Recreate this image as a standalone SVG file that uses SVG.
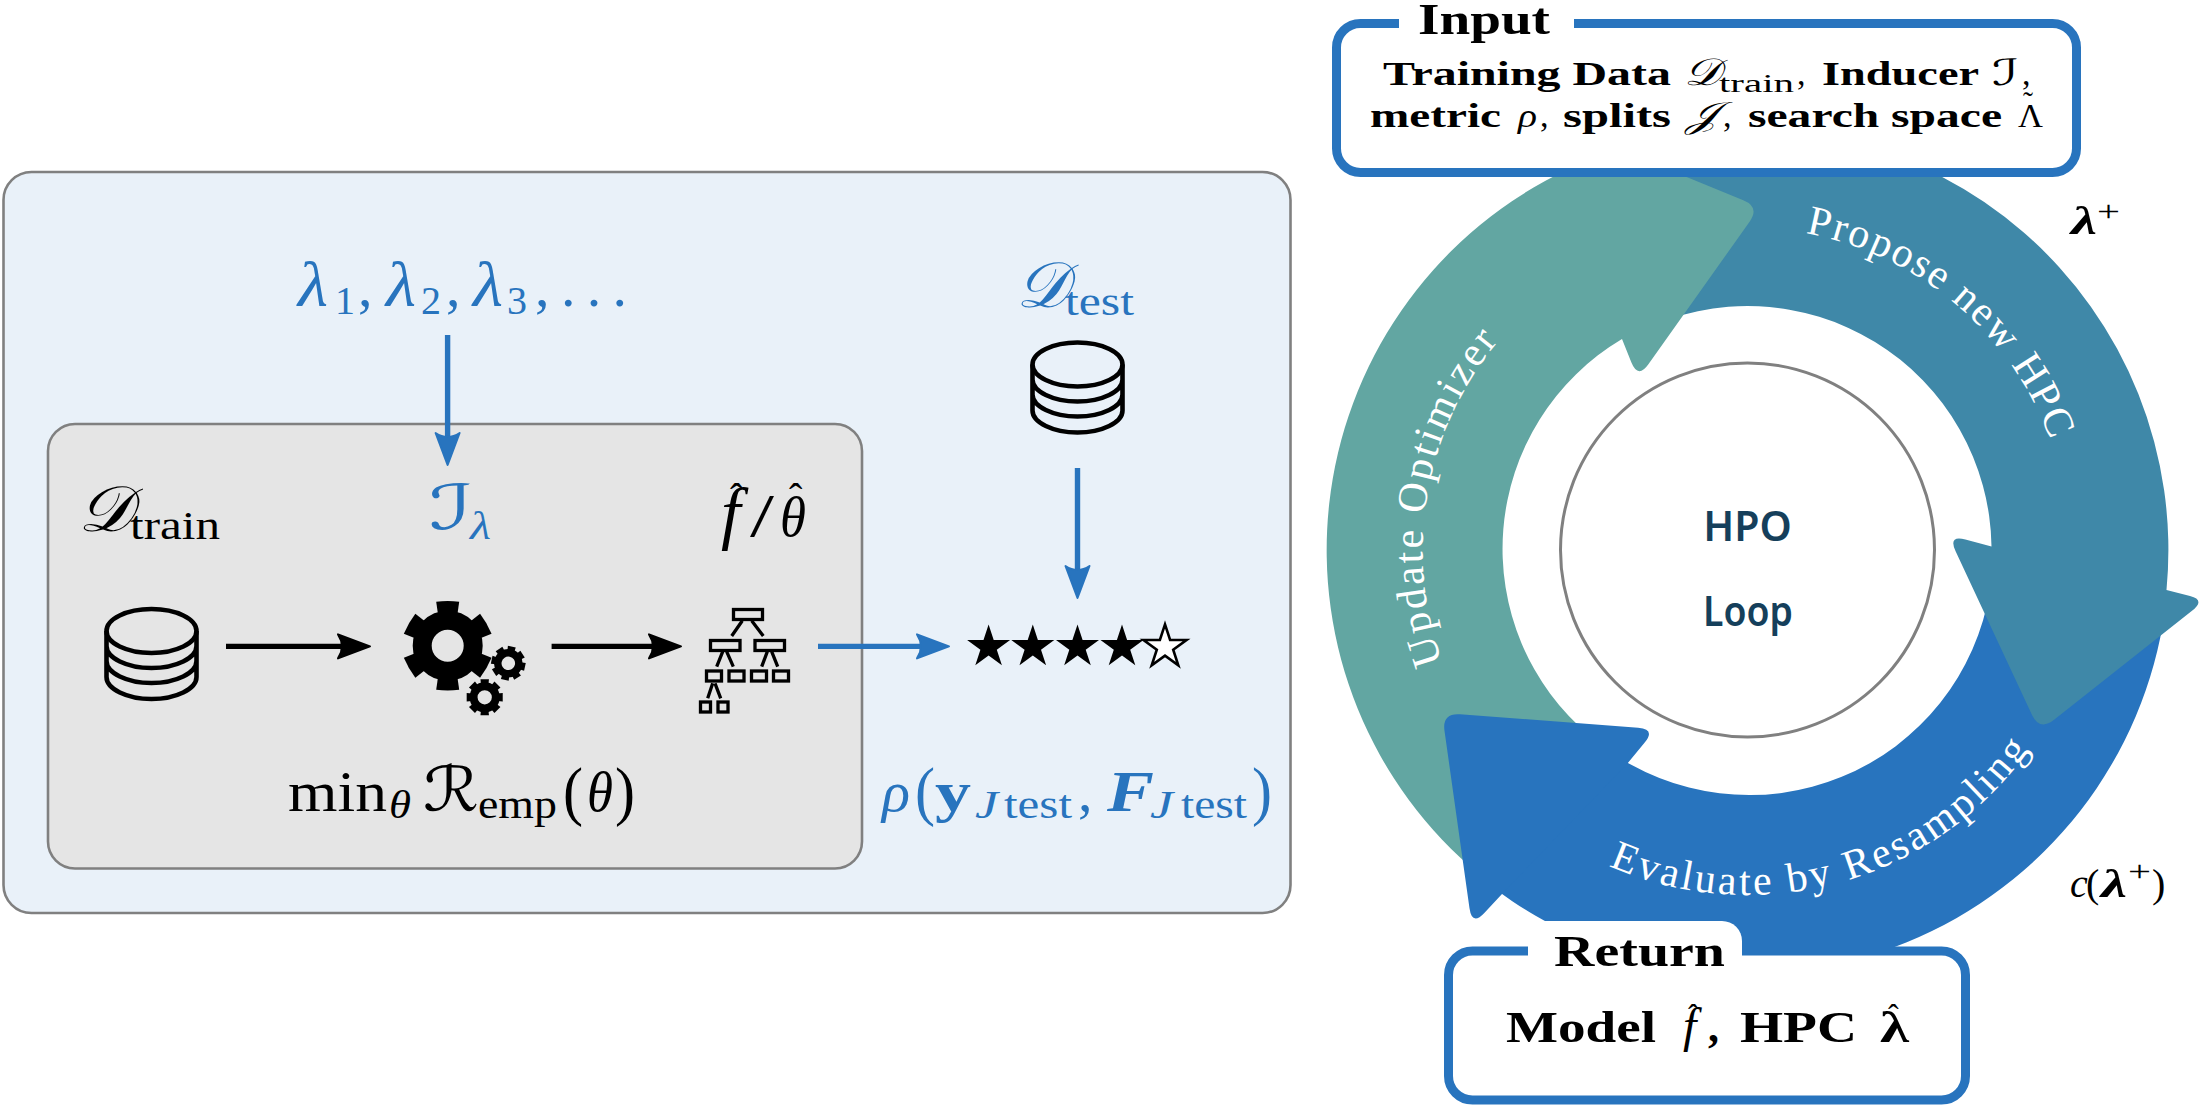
<svg xmlns="http://www.w3.org/2000/svg" xmlns:xlink="http://www.w3.org/1999/xlink" width="2202" height="1106" viewBox="0 0 2202 1106">
<style>
text{font-family:"Liberation Serif","DejaVu Serif",serif;fill:#000}
.i{font-style:italic}
.bd{font-weight:700}
.blue,.blue text{fill:#2874BE}
.script{font-family:"DejaVu Sans","Noto Sans",sans-serif;font-style:italic}
.arc{fill:#fff;font-size:42px}
.panel{stroke:#808080;stroke-width:2.6}
.frame{fill:none;stroke:#2874BE;stroke-width:9}
.db{fill:none;stroke:#000;stroke-width:4.6}
.tree rect,.tree path{fill:none;stroke:#000;stroke-width:3.3}
.conn{fill:none;stroke-width:5.4}
.hpo{font-family:"Noto Sans",sans-serif;font-weight:600;font-size:41px;fill:#153F5B;text-anchor:middle}
</style>
<defs>
<marker id="ah-k" markerUnits="userSpaceOnUse" markerWidth="60" markerHeight="40" refX="0" refY="20" orient="auto" overflow="visible"><path d="M-10 8Q-2 20-10 32L22 20Z" fill="#000" stroke="#000" stroke-width="2" stroke-linejoin="round"/></marker>
<marker id="ah-b" markerUnits="userSpaceOnUse" markerWidth="60" markerHeight="40" refX="0" refY="20" orient="auto" overflow="visible"><path d="M-10 8Q-2 20-10 32L22 20Z" fill="#2874BE" stroke="#2874BE" stroke-width="2" stroke-linejoin="round"/></marker>
<g id="cyl" class="db">
<ellipse cx="151.5" cy="631" rx="45" ry="22"/>
<path d="M106.500 631V677C106.500 689 127 699 151.500 699S196.500 689 196.500 677V631M106.500 646C106.500 658 127 668 151.500 668S196.500 658 196.500 646M106.500 661C106.500 673 127 683 151.500 683S196.500 673 196.500 661"/>
</g>
<path id="tooth-l" d="M-9.500 -30L-11.500 -44Q0 -45.500 11.500 -44L9.500 -30Z"/>
<g id="gear-s">
<circle r="10.500" fill="none" stroke="#000" stroke-width="7.500"/>
<path id="ts" d="M-3.500 -12L-4 -17H4L3.500 -12Z"/>
<use href="#ts" transform="rotate(45)"/><use href="#ts" transform="rotate(90)"/><use href="#ts" transform="rotate(135)"/><use href="#ts" transform="rotate(180)"/><use href="#ts" transform="rotate(225)"/><use href="#ts" transform="rotate(270)"/><use href="#ts" transform="rotate(315)"/>
</g>
<polygon id="star" points="0,-22.600 5.100,-7 21.500,-7 8.200,2.700 13.300,18.300 0,8.600 -13.300,18.300 -8.200,2.700 -21.500,-7 -5.100,-7"/>
<path id="tp-propose" d="M1805.600 233.300A322 322 0 0 1 2050.100 439.900"/>
<path id="tp-update" d="M1442.500 662A325 325 0 0 1 1498.500 341.100"/>
<path id="tp-eval" d="M1608.800 865.900A345 345 0 0 0 2029.100 749.400"/>
</defs>

<g id="left-panel">
<rect class="panel" x="3.500" y="172" width="1287" height="741" rx="28" fill="#E9F1F9"/>
</g>
<g id="inner-panel">
<rect class="panel" x="48" y="424" width="814" height="444.500" rx="27" fill="#E5E5E5"/>
</g>

<g id="connectors">
<path class="conn" stroke="#2874BE" marker-end="url(#ah-b)" d="M447.600 335V443"/>
<path class="conn" stroke="#000" marker-end="url(#ah-k)" d="M226 646.400H348"/>
<path class="conn" stroke="#000" marker-end="url(#ah-k)" d="M551.600 646.400H659"/>
<path class="conn" stroke="#2874BE" marker-end="url(#ah-b)" d="M818 646.400H927"/>
<path class="conn" stroke="#2874BE" marker-end="url(#ah-b)" d="M1077.500 468V576"/>
</g>

<g id="lambda-seq" class="blue">
<text class="i" x="298" y="305.500" font-size="64" textLength="30" lengthAdjust="spacingAndGlyphs">λ</text>
<text x="335" y="314" font-size="40">1</text><text x="358" y="305.500" font-size="58">,</text>
<text class="i" x="386" y="305.500" font-size="64" textLength="30" lengthAdjust="spacingAndGlyphs">λ</text>
<text x="421" y="314" font-size="40">2</text><text x="446" y="305.500" font-size="58">,</text>
<text class="i" x="473" y="305.500" font-size="64" textLength="30" lengthAdjust="spacingAndGlyphs">λ</text>
<text x="507" y="314" font-size="40">3</text><text x="535" y="305.500" font-size="58">,</text>
<text x="561" y="305.500" font-size="58" textLength="66" lengthAdjust="spacing">...</text>
</g>
<g id="d-train">
<text class="script" x="78" y="531" font-size="64" textLength="54" lengthAdjust="spacingAndGlyphs">𝒟</text>
<text x="130" y="538.500" font-size="40" textLength="90" lengthAdjust="spacingAndGlyphs">train</text>
</g>
<g id="inducer" class="blue">
<text class="script" x="429" y="529" font-size="62" textLength="44" lengthAdjust="spacingAndGlyphs">ℐ</text>
<text class="i" x="470" y="538.500" font-size="40" textLength="21" lengthAdjust="spacingAndGlyphs">λ</text>
</g>
<g id="f-theta-hat">
<text class="i" x="721" y="536" font-size="70">f</text>
<text x="730" y="511" font-size="40">ˆ</text>
<text x="750" y="536" font-size="62" textLength="24" lengthAdjust="spacingAndGlyphs">/</text>
<text class="i" x="780" y="536" font-size="58" textLength="26" lengthAdjust="spacingAndGlyphs">θ</text>
<text x="789" y="511" font-size="40">ˆ</text>
</g>
<g id="db-train"><use href="#cyl"/></g>
<g id="gears">
<circle cx="447.700" cy="645.700" r="25.500" fill="none" stroke="#000" stroke-width="19"/>
<g transform="translate(447.700,645.700)">
<use href="#tooth-l"/><use href="#tooth-l" transform="rotate(60)"/><use href="#tooth-l" transform="rotate(120)"/><use href="#tooth-l" transform="rotate(180)"/><use href="#tooth-l" transform="rotate(240)"/><use href="#tooth-l" transform="rotate(300)"/>
</g>
<use href="#gear-s" transform="translate(508.300,663.300) rotate(12)"/>
<use href="#gear-s" transform="translate(484.700,697.300) scale(1.060)"/>
</g>
<g id="tree" class="tree">
<rect x="733.500" y="609.500" width="29" height="10"/>
<rect x="710.500" y="640.500" width="29.500" height="10"/><rect x="755" y="640.500" width="29.500" height="10"/>
<rect x="706.500" y="671" width="15" height="10"/><rect x="729" y="671" width="15" height="10"/><rect x="751.500" y="671" width="15" height="10"/><rect x="773.500" y="671" width="15" height="10"/>
<rect x="700.500" y="702" width="10" height="10"/><rect x="718" y="702" width="10" height="10"/>
<path d="M742.300 620.700L731.700 636M751.700 620.700L763.300 636M722.700 651.700L716.700 666.700M726.700 651.700L733.300 666.700M767.300 651.700L761.700 666.700M771.700 651.700L777.700 666.700M712.700 683.300L707.700 698.300M715 683.300L720.700 698.300"/>
</g>
<g id="min-risk">
<text x="288" y="810.500" font-size="58" textLength="99" lengthAdjust="spacingAndGlyphs">min</text>
<text class="i" x="389" y="818" font-size="40" textLength="22" lengthAdjust="spacingAndGlyphs">θ</text>
<text class="script" x="423" y="810.500" font-size="62" textLength="56" lengthAdjust="spacingAndGlyphs">ℛ</text>
<text x="478" y="818" font-size="40" textLength="79" lengthAdjust="spacingAndGlyphs">emp</text>
<text x="563" y="813" font-size="66" textLength="20" lengthAdjust="spacingAndGlyphs">(</text>
<text class="i" x="587" y="810.500" font-size="58" textLength="26" lengthAdjust="spacingAndGlyphs">θ</text>
<text x="615" y="813" font-size="66" textLength="20" lengthAdjust="spacingAndGlyphs">)</text>
</g>
<g id="d-test" class="blue">
<text class="script" x="1016" y="307" font-size="64" textLength="52" lengthAdjust="spacingAndGlyphs">𝒟</text>
<text x="1065" y="315" font-size="40" textLength="69" lengthAdjust="spacingAndGlyphs">test</text>
</g>
<g id="db-test"><use href="#cyl" transform="translate(926,-266.500)"/></g>
<g id="stars">
<use href="#star" x="988.600" y="647"/><use href="#star" x="1032.800" y="647"/><use href="#star" x="1077.500" y="647"/><use href="#star" x="1122" y="647"/>
<use href="#star" x="1165" y="647" fill="#fff" stroke="#000" stroke-width="2.600"/>
</g>
<g id="rho" class="blue">
<text class="i" x="882" y="810.500" font-size="58" textLength="28" lengthAdjust="spacingAndGlyphs">ρ</text>
<text x="915" y="813" font-size="66" textLength="20" lengthAdjust="spacingAndGlyphs">(</text>
<text class="bd" x="935" y="810.500" font-size="58" textLength="36" lengthAdjust="spacingAndGlyphs">y</text>
<text class="i" x="975" y="818" font-size="40" textLength="23" lengthAdjust="spacingAndGlyphs">J</text>
<text x="1004" y="818" font-size="40" textLength="68" lengthAdjust="spacingAndGlyphs">test</text>
<text x="1078" y="810.500" font-size="58">,</text>
<text class="i bd" x="1107" y="810.500" font-size="58" textLength="47" lengthAdjust="spacingAndGlyphs">F</text>
<text class="i" x="1150" y="818" font-size="40" textLength="23" lengthAdjust="spacingAndGlyphs">J</text>
<text x="1181" y="818" font-size="40" textLength="66" lengthAdjust="spacingAndGlyphs">test</text>
<text x="1252" y="813" font-size="66" textLength="20" lengthAdjust="spacingAndGlyphs">)</text>
</g>

<g id="loop-arrows">
<path id="arrow-eval-band" fill="#2874BE" d="M2165 610A421 421 0 0 1 1490 885L1605 748A244 244 0 0 0 1990 590Z"/>
<path id="arrow-propose" fill="#3F88A8" d="M1650 140.500A421 421 0 0 1 2166.500 590L2190 596Q2206 600 2191.700 611L2053.800 720.100Q2039.500 731 2031.900 714.700L1955.600 551.300Q1948 535 1965.400 539.600L1991.500 546.400A244 244 0 0 0 1640 331Z"/>
<path id="arrow-update" fill="#62A6A2" d="M1480 875A421 421 0 0 1 1556.400 175L1533 114L1743.300 200.200Q1760 207 1749.600 221.700L1648.400 364.300Q1638 379 1631.300 362.300L1622 339A244 244 0 0 0 1590 736Z"/>
<path id="arrow-eval-head" fill="#2874BE" d="M1502 894L1484.300 912.900Q1472 926 1469.500 908.200L1444.500 730.800Q1442 713 1459.900 714.300L1638.100 727.700Q1656 729 1644.500 742.800L1627 764Z"/>
<text class="arc"><textPath href="#tp-propose" textLength="335" lengthAdjust="spacing">Propose new HPC</textPath></text>
<text class="arc"><textPath href="#tp-update" textLength="341" lengthAdjust="spacing">Update Optimizer</textPath></text>
<text class="arc"><textPath href="#tp-eval" textLength="472" lengthAdjust="spacing">Evaluate by Resampling</textPath></text>
</g>

<g id="hpo-center">
<circle cx="1747.500" cy="550" r="187" fill="#fff" stroke="#808080" stroke-width="3"/>
<text class="hpo" x="1747.500" y="541">HPO</text>
<text class="hpo" x="1703" y="626" style="text-anchor:start" textLength="90" lengthAdjust="spacingAndGlyphs">Loop</text>
</g>

<g id="input-box">
<rect x="1336.500" y="23.500" width="740" height="149" rx="24" fill="#fff"/>
<path class="frame" d="M1574 23.500H2052.500A24 24 0 0 1 2076.500 47.500V148.500A24 24 0 0 1 2052.500 172.500H1360.500A24 24 0 0 1 1336.500 148.500V47.500A24 24 0 0 1 1360.500 23.500H1399"/>
<text class="bd" x="1418" y="34" font-size="44" textLength="132" lengthAdjust="spacingAndGlyphs">Input</text>
<text class="bd" x="1383" y="85" font-size="34" textLength="288" lengthAdjust="spacingAndGlyphs">Training Data</text>
<text class="script" x="1684" y="85" font-size="38" textLength="36" lengthAdjust="spacingAndGlyphs">𝒟</text>
<text x="1719" y="92" font-size="26" textLength="75" lengthAdjust="spacingAndGlyphs">train</text>
<text x="1797" y="85" font-size="34">,</text>
<text class="bd" x="1822" y="85" font-size="34" textLength="157" lengthAdjust="spacingAndGlyphs">Inducer</text>
<text class="script" x="1992" y="85" font-size="36" textLength="27" lengthAdjust="spacingAndGlyphs">ℐ</text>
<text x="2022" y="85" font-size="34">,</text>
<text class="bd" x="1370" y="127" font-size="34" textLength="131" lengthAdjust="spacingAndGlyphs">metric</text>
<text class="i" x="1518" y="127" font-size="34" textLength="19" lengthAdjust="spacingAndGlyphs">ρ</text>
<text x="1540" y="127" font-size="34">,</text>
<text class="bd" x="1563" y="127" font-size="34" textLength="108" lengthAdjust="spacingAndGlyphs">splits</text>
<text class="script" x="1686" y="127" font-size="36" textLength="32" lengthAdjust="spacingAndGlyphs">𝒥</text>
<text x="1723" y="127" font-size="34">,</text>
<text class="bd" x="1748" y="127" font-size="34" textLength="254" lengthAdjust="spacingAndGlyphs">search space</text>
<text x="2018" y="127" font-size="34" textLength="25" lengthAdjust="spacingAndGlyphs">Λ</text>
<text x="2023" y="112" font-size="30">˜</text>
</g>

<g id="return-box">
<rect x="1448.500" y="951" width="517" height="149" rx="24" fill="#fff"/>
<path fill="#fff" d="M1528 960V939A18 18 0 0 1 1546 921H1722A20 20 0 0 1 1742 941V960Z"/>
<path class="frame" d="M1742 951H1941.500A24 24 0 0 1 1965.500 975V1076A24 24 0 0 1 1941.500 1100H1472.500A24 24 0 0 1 1448.500 1076V975A24 24 0 0 1 1472.500 951H1528"/>
<text class="bd" x="1554" y="966" font-size="44" textLength="171" lengthAdjust="spacingAndGlyphs">Return</text>
<text class="bd" x="1506" y="1042" font-size="44" textLength="150" lengthAdjust="spacingAndGlyphs">Model</text>
<text class="i" x="1683" y="1042" font-size="48">f</text>
<text x="1688" y="1026" font-size="32">ˆ</text>
<text class="bd" x="1708" y="1042" font-size="44">,</text>
<text class="bd" x="1740" y="1042" font-size="44" textLength="117" lengthAdjust="spacingAndGlyphs">HPC</text>
<text class="bd" x="1880" y="1042" font-size="44" textLength="29" lengthAdjust="spacingAndGlyphs">λ</text>
<text x="1888" y="1026" font-size="32">ˆ</text>
</g>

<g id="lambda-plus">
<text class="bd i" x="2071" y="234" font-size="40" textLength="26" lengthAdjust="spacingAndGlyphs">λ</text>
<text x="2097" y="221" font-size="30" textLength="23" lengthAdjust="spacingAndGlyphs">+</text>
</g>
<g id="cost">
<text class="i" x="2070" y="897" font-size="40">c</text>
<text x="2086" y="897" font-size="40">(</text>
<text class="bd i" x="2101" y="897" font-size="40" textLength="26" lengthAdjust="spacingAndGlyphs">λ</text>
<text x="2128" y="881" font-size="30" textLength="23" lengthAdjust="spacingAndGlyphs">+</text>
<text x="2152" y="897" font-size="40">)</text>
</g>
</svg>
